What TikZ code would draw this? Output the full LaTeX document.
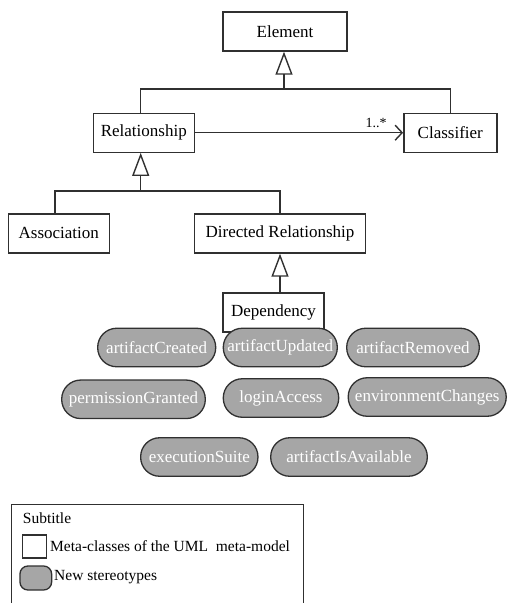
\documentclass[tikz,border=0pt]{standalone}
\usepackage{fontspec}
\setmainfont{Liberation Serif}
\usetikzlibrary{arrows.meta}
\definecolor{stereo}{HTML}{A6A6A6}
\definecolor{edge}{HTML}{303030}
\begin{document}
\begin{tikzpicture}[x=1pt,y=-1pt,
  metaclass/.style={draw=edge, line width=1.4pt, fill=white, rectangle,
    minimum height=39pt, inner sep=0pt, font=\fontsize{17}{19}\selectfont},
  stereotype/.style={draw=edge, line width=1.3pt, fill=stereo, rectangle,
    rounded corners=19pt, minimum height=38.5pt, inner sep=0pt,
    text=white, font=\fontsize{17}{19}\selectfont},
  gen/.style={draw=edge, line width=1.4pt,
    -{Triangle[open, length=23pt, width=17pt, line width=1.4pt]}},
  link/.style={draw=edge, line width=1.4pt},
  assoc/.style={draw=edge, line width=1.4pt,
    -{Straight Barb[length=7pt, width=15pt, line width=1.4pt]}},
  legendtext/.style={anchor=west, inner sep=0pt, font=\fontsize{15.5}{17}\selectfont}]
\useasboundingbox (0,0) rectangle (507,603);

% meta-classes
\node[metaclass, minimum width=124pt] (element) at (285,31.5) {Element};
\node[metaclass, minimum width=101pt] (relationship) at (143.8,132.7) {Relationship};
\node[metaclass, minimum width=93pt] (classifier) at (450.3,132.7) {Classifier};
\node[metaclass, minimum width=101pt] (association) at (58.8,233.4) {Association};
\node[metaclass, minimum width=171pt] (directed) at (280,233.5) {Directed Relationship};
\node[metaclass, minimum width=101pt] (dependency) at (273.5,312.5) {Dependency};

% junction points of the generalization trees
\coordinate (jtop) at (284,89);
\coordinate (jmid) at (140.7,191);

% generalizations
\draw[gen] (140.7,113.2) |- (jtop) -- (element.south -| jtop);
\draw[link] (classifier.north) |- (jtop);
\draw[gen] (association.north -| 55,0) |- (jmid) -- (relationship.south -| jmid);
\draw[link] (directed.north) |- (jmid);
\draw[gen] (dependency.north -| directed.south) -- (directed.south);

% association with multiplicity
\draw[assoc] (relationship.east) -- (classifier.west)
  node[pos=0.87, above=1pt, font=\fontsize{14}{16}\selectfont] (mult) {1..*};

% stereotypes
\node[stereotype, minimum width=118pt] (created) at (156.7,347.5) {artifactCreated};
\node[stereotype, minimum width=114pt] (updated) at (280.3,347.5) {artifactUpdated};
\node[stereotype, minimum width=132.6pt] (removed) at (413,347.5) {artifactRemoved};
\node[stereotype, minimum width=143.6pt] (permission) at (133.5,399.3) {permissionGranted};
\node[stereotype, minimum width=115.4pt] (login) at (281,398) {loginAccess};
\node[stereotype, minimum width=158pt] (environment) at (427.2,397) {environmentChanges};
\node[stereotype, minimum width=117.3pt] (execution) at (199.3,457) {executionSuite};
\node[stereotype, minimum width=156.6pt] (available) at (349,457) {artifactIsAvailable};

% legend
\draw[draw=edge, line width=1pt] (11,610) -- (11,504) -- (303.3,504) -- (303.3,610);
\node[legendtext] (subtitle) at (22.7,518) {Subtitle};
\node[draw=edge, line width=1.3pt, fill=white, minimum width=24pt, minimum height=23pt,
  inner sep=0pt] (keyclass) at (34.7,546.5) {};
\node[legendtext] (keyclasstext) at (50,546.5) {Meta-classes of the UML\ \ meta-model};
\node[draw=edge, line width=1.3pt, fill=stereo, rounded corners=8pt, minimum width=31.7pt,
  minimum height=24pt, inner sep=0pt] (keystereo) at (35.8,578) {};
\node[legendtext] (keystereotext) at (54,577) {New stereotypes};
\end{tikzpicture}
\end{document}
